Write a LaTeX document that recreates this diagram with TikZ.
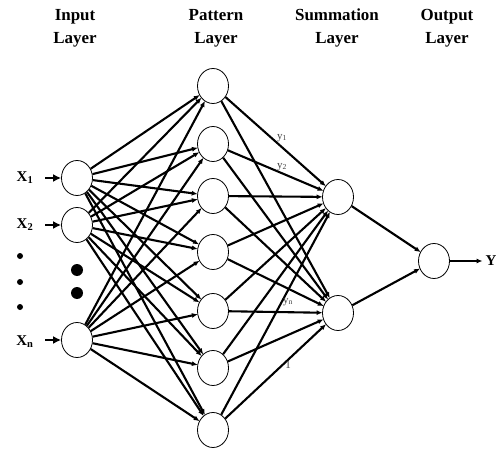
\documentclass[tikz,border=0pt]{standalone}
\usepackage{fontspec}
\setmainfont{Liberation Serif}
\usetikzlibrary{shapes.geometric,arrows.meta}
\begin{document}
\begin{tikzpicture}[x=1bp,y=-1bp,
  neuron/.style={draw,ellipse,line width=0.8bp,minimum width=31bp,minimum height=35bp,inner sep=0pt},
  edge/.style={line width=2.1bp,-{Latex[length=6bp,width=5bp]},shorten >=-0.5bp},
  inarrow/.style={line width=2.1bp,-{Latex[length=8bp,width=8bp]}},
  title/.style={align=center,font=\fontsize{17}{23}\selectfont\bfseries},
  xlab/.style={font=\fontsize{15}{17}\selectfont\bfseries},
  ylab/.style={font=\fontsize{11}{12}\selectfont,text=black!75},
  bigdot/.style={fill,circle,inner sep=0pt,minimum size=12bp},
  smalldot/.style={fill,circle,inner sep=0pt,minimum size=6bp}]
\useasboundingbox (0,0) rectangle (499,450);
% titles
\node[title] (t1) at (75,28) {Input\\Layer};
\node[title] (t2) at (216,28) {Pattern\\Layer};
\node[title] (t3) at (337,28) {Summation\\Layer};
\node[title] (t4) at (447,28) {Output\\Layer};
% input nodes
\node[neuron] (in1) at (77,178) {};
\node[neuron] (in2) at (77,225) {};
\node[neuron] (in3) at (77,340) {};
% pattern nodes
\foreach \j/\yy in {1/86,2/144,3/196,4/252,5/311,6/368,7/430}
  \node[neuron] (p\j) at (213,\yy) {};
% summation
\node[neuron] (s1) at (338,197) {};
\node[neuron] (s2) at (338,313) {};
% output
\node[neuron] (o) at (434,261) {};
% dots
\node[bigdot] (bd1) at (77,270) {};
\node[bigdot] (bd2) at (77,293) {};
\node[smalldot] (sd1) at (20,256) {};
\node[smalldot] (sd2) at (20,282) {};
\node[smalldot] (sd3) at (20,307) {};
% input labels
\node[xlab] (x1) at (25,178) {X\textsubscript{1}};
\node[xlab] (x2) at (25,225) {X\textsubscript{2}};
\node[xlab] (xn) at (25,342) {X\textsubscript{n}};
\coordinate (a1) at (45,178);
\coordinate (a2) at (45,225);
\coordinate (a3) at (45,340);
\foreach \i in {1,2,3}
  \draw[inarrow] (a\i) -- (in\i);
% connections
\foreach \i in {1,2,3}
  \foreach \j in {1,...,7}
    \draw[edge] (in\i) -- (p\j);
\foreach \j in {1,...,7}{
  \draw[edge] (p\j) -- (s1);
  \draw[edge] (p\j) -- (s2);
}
\draw[edge] (s1) -- (o);
\draw[edge] (s2) -- (o);
\node[xlab] (y) at (491,261) {Y};
\draw[edge] (o) -- (y);
% weight labels
\node[ylab] (w1) at (282,138) {y\textsubscript{1}};
\node[ylab] (w2) at (282,167) {y\textsubscript{2}};
\node[ylab] (wn) at (288,302) {y\textsubscript{n}};
\node[ylab] (w0) at (288,365) {1};
\end{tikzpicture}
\end{document}
